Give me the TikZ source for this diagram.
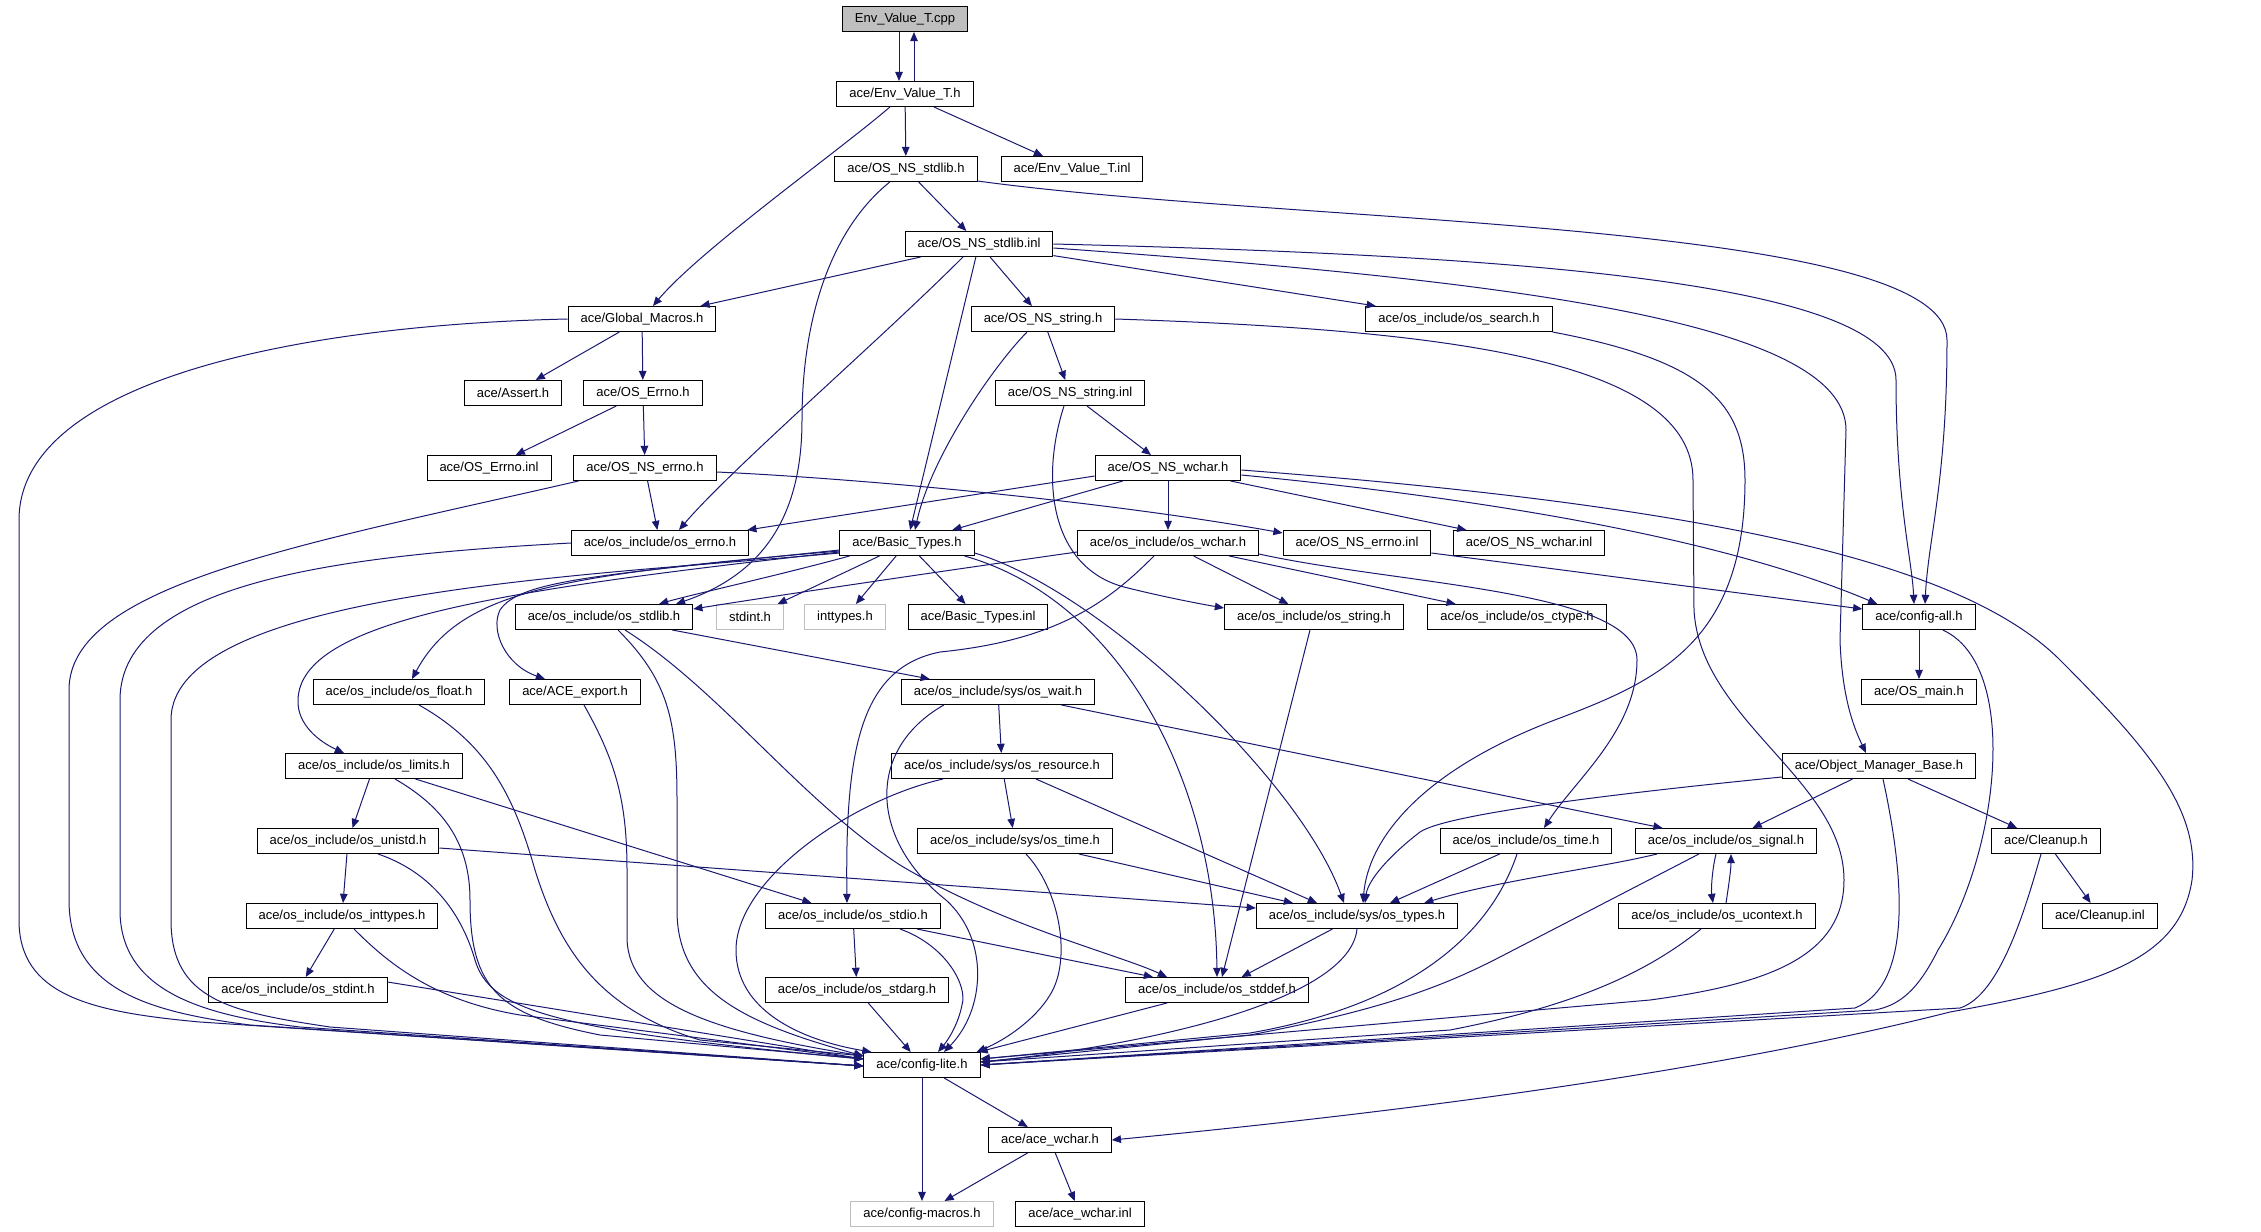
\documentclass[tikz,border=0pt]{standalone}
\usepackage{fontspec}
\setmainfont{Liberation Sans}
\usetikzlibrary{arrows.meta,calc}
\definecolor{edgec}{HTML}{191970}
\definecolor{graybd}{HTML}{BFBFBF}
\tikzset{
  box/.style={draw=black, line width=0.5pt, rectangle, fill=white, minimum height=12.5pt,
    inner xsep=6.25pt, inner ysep=0pt, font={\fontsize{6.5pt}{7.5pt}\selectfont}},
  gbox/.style={box, draw=graybd},
  rootbox/.style={box, fill=graybd},
  e/.style={draw=edgec, line width=0.5pt, -{Triangle[length=4.6pt,width=3.8pt]}},
}
\begin{document}
\begin{tikzpicture}[x=0.5pt,y=-0.5pt]
\useasboundingbox (0,0) rectangle (2261,1232);
% nodes
\node[rootbox] (cpp) at (905,19) {Env\_Value\_T.cpp};
\node[box] (evh) at (905,94) {ace/Env\_Value\_T.h};
\node[box] (nsstdlib) at (906,169) {ace/OS\_NS\_stdlib.h};
\node[box] (evinl) at (1072,169) {ace/Env\_Value\_T.inl};
\node[box] (nsstdlibinl) at (979,244) {ace/OS\_NS\_stdlib.inl};
\node[box] (gm) at (642,319) {ace/Global\_Macros.h};
\node[box] (nsstring) at (1043,319) {ace/OS\_NS\_string.h};
\node[box] (search) at (1459,319) {ace/os\_include/os\_search.h};
\node[box] (assert) at (513,393) {ace/Assert.h};
\node[box] (errno) at (643,393) {ace/OS\_Errno.h};
\node[box] (nsstringinl) at (1070,393) {ace/OS\_NS\_string.inl};
\node[box] (errnoinl) at (489,468) {ace/OS\_Errno.inl};
\node[box] (nserrno) at (645,468) {ace/OS\_NS\_errno.h};
\node[box] (nswchar) at (1168,468) {ace/OS\_NS\_wchar.h};
\node[box] (oserrno) at (660,543) {ace/os\_include/os\_errno.h};
\node[box] (bt) at (907,543) {ace/Basic\_Types.h};
\node[box] (oswchar) at (1168,543) {ace/os\_include/os\_wchar.h};
\node[box] (nserrnoinl) at (1357,543) {ace/OS\_NS\_errno.inl};
\node[box] (nswcharinl) at (1529,543) {ace/OS\_NS\_wchar.inl};
\node[box] (osstdlib) at (604,617) {ace/os\_include/os\_stdlib.h};
\node[gbox] (stdint) at (750,617) {stdint.h};
\node[gbox] (inttypes) at (845,617) {inttypes.h};
\node[box] (btinl) at (978,617) {ace/Basic\_Types.inl};
\node[box] (osstring) at (1314,617) {ace/os\_include/os\_string.h};
\node[box] (ctype) at (1517,617) {ace/os\_include/os\_ctype.h};
\node[box] (configall) at (1919,617) {ace/config-all.h};
\node[box] (float) at (399,692) {ace/os\_include/os\_float.h};
\node[box] (export) at (575,692) {ace/ACE\_export.h};
\node[box] (wait) at (998,692) {ace/os\_include/sys/os\_wait.h};
\node[box] (osmain) at (1919,692) {ace/OS\_main.h};
\node[box] (limits) at (374,766) {ace/os\_include/os\_limits.h};
\node[box] (resource) at (1002,766) {ace/os\_include/sys/os\_resource.h};
\node[box] (omb) at (1879,766) {ace/Object\_Manager\_Base.h};
\node[box] (unistd) at (348,841) {ace/os\_include/os\_unistd.h};
\node[box] (systime) at (1015,841) {ace/os\_include/sys/os\_time.h};
\node[box] (ostime) at (1526,841) {ace/os\_include/os\_time.h};
\node[box] (signal) at (1726,841) {ace/os\_include/os\_signal.h};
\node[box] (cleanup) at (2046,841) {ace/Cleanup.h};
\node[box] (inttypesh) at (342,916) {ace/os\_include/os\_inttypes.h};
\node[box] (stdio) at (853,916) {ace/os\_include/os\_stdio.h};
\node[box] (systypes) at (1357,916) {ace/os\_include/sys/os\_types.h};
\node[box] (ucontext) at (1717,916) {ace/os\_include/os\_ucontext.h};
\node[box] (cleanupinl) at (2100,916) {ace/Cleanup.inl};
\node[box] (stdintinc) at (298,990) {ace/os\_include/os\_stdint.h};
\node[box] (stdarg) at (857,990) {ace/os\_include/os\_stdarg.h};
\node[box] (stddef) at (1217,990) {ace/os\_include/os\_stddef.h};
\node[box] (cl) at (922,1065) {ace/config-lite.h};
\node[box] (acewchar) at (1050,1140) {ace/ace\_wchar.h};
\node[gbox] (macros) at (922,1214) {ace/config-macros.h};
\node[box] (wcharinl) at (1080,1214) {ace/ace\_wchar.inl};

% top
\draw[e] ($(cpp.south)+(-6,0)$) -- ($(evh.north)+(-6,0)$);
\draw[e] ($(evh.north)+(9,0)$) -- ($(cpp.south)+(9,0)$);
\draw[e] (evh) -- (nsstdlib);
\draw[e] (evh) -- (evinl);
\draw[e] (evh) .. controls (840,150) and (700,250) .. (gm);
% OS_NS_stdlib.h
\draw[e] (nsstdlib) -- (nsstdlibinl);
\draw[e] (nsstdlib) .. controls (830,230) and (802,320) .. (802,420) .. controls (802,520) and (760,575) .. ($(osstdlib.north)+(72,0)$);
\draw[e] ($(nsstdlib.south east)+(0,-1)$) .. controls (1300,225) and (1947,220) .. (1947,340) .. controls (1947,480) and (1928,540) .. ($(configall.north)+(6,0)$);
% OS_NS_stdlib.inl
\draw[e] (nsstdlibinl) -- (gm);
\draw[e] (nsstdlibinl) -- (bt);
\draw[e] ($(nsstdlibinl.south)+(-16,0)$) .. controls (880,340) and (730,470) .. ($(oserrno.north)+(19,0)$);
\draw[e] (nsstdlibinl) -- (nsstring);
\draw[e] (nsstdlibinl) -- (search);
\draw[e] (nsstdlibinl.east) .. controls (1500,255) and (1896,280) .. (1896,380) .. controls (1896,500) and (1912,560) .. ($(configall.north)+(-5,0)$);
\draw[e] ($(nsstdlibinl.east)+(0,4)$) .. controls (1500,280) and (1846,320) .. (1846,430) -- (1840,640) .. controls (1842,700) and (1855,730) .. ($(omb.north)+(-13,0)$);
% Global_Macros
\draw[e] (gm) -- (assert);
\draw[e] (gm) -- (errno);
\draw[e] (gm.west) .. controls (300,325) and (19,380) .. (19,520) -- (19,920) .. controls (19,995) and (90,1012) .. (200,1022) -- ($(cl.west)+(0,1)$);
% OS_Errno
\draw[e] (errno) -- (errnoinl);
\draw[e] (errno) -- (nserrno);
% OS_NS_errno
\draw[e] (nserrno) -- (oserrno);
\draw[e] ($(nserrno.east)+(0,4)$) .. controls (850,478) and (1100,500) .. ($(nserrnoinl.north west)+(0,3)$);
\draw[e] ($(nserrno.south west)+(5,0)$) .. controls (300,545) and (69,585) .. (69,690) -- (69,900) .. controls (69,990) and (150,1012) .. (250,1025) -- ($(cl.west)+(0,1)$);
% os_errno
\draw[e] (oserrno.west) .. controls (350,555) and (120,580) .. (120,700) -- (120,910) .. controls (120,990) and (200,1015) .. (300,1027) -- ($(cl.west)+(0,1)$);
% OS_NS_string.h
\draw[e] (nsstring) -- (nsstringinl);
\draw[e] ($(nsstring.south)+(-16,0)$) .. controls (990,370) and (930,460) .. ($(bt.north)+(8,0)$);
\draw[e] (nsstring.east) .. controls (1450,330) and (1693,360) .. (1693,480) -- (1694,610) .. controls (1700,720) and (1844,780) .. (1844,880) .. controls (1844,960) and (1760,985) .. (1650,1000) -- ($(cl.east)+(0,-6)$);
% OS_NS_string.inl
\draw[e] (nsstringinl) -- (nswchar);
\draw[e] ($(nsstringinl.south)+(-6,0)$) .. controls (1040,480) and (1050,570) .. (1128,588) .. controls (1160,596) and (1195,603) .. ($(osstring.north west)+(0,4)$);
% OS_NS_wchar.h
\draw[e] ($(nswchar.west)+(0,8)$) -- ($(oserrno.north east)+(-2,0)$);
\draw[e] (nswchar) -- (bt);
\draw[e] (nswchar) -- (oswchar);
\draw[e] (nswchar) -- (nswcharinl);
\draw[e] ($(nswchar.east)+(0,7)$) .. controls (1550,505) and (1750,550) .. ($(configall.north west)+(15,0)$);
\draw[e] ($(nswchar.east)+(0,2)$) .. controls (1700,505) and (1960,560) .. (2060,660) .. controls (2150,750) and (2200,810) .. (2192,880) .. controls (2180,960) and (2100,985) .. (1950,1012) .. controls (1800,1050) and (1550,1098) .. (acewchar.east);
% os_wchar.h
\draw[e] ($(oswchar.west)+(0,9)$) .. controls (950,570) and (780,595) .. ($(osstdlib.east)+(0,-8)$);
\draw[e] ($(oswchar.south)+(-14,0)$) .. controls (1110,600) and (1060,640) .. (940,652) .. controls (860,668) and (845,750) .. ($(stdio.north)+(-6,0)$);
\draw[e] (oswchar) -- (osstring);
\draw[e] (oswchar) -- (ctype);
\draw[e] ($(oswchar.south east)+(0,-2)$) .. controls (1400,585) and (1637,590) .. (1637,660) .. controls (1637,730) and (1575,780) .. ($(ostime.north)+(18,0)$);
% OS_NS_errno.inl
\draw[e] ($(nserrnoinl.east)+(0,10)$) -- ($(configall.west)+(0,-8)$);
% Basic_Types.h
\draw[e] (bt) -- (stdint);
\draw[e] (bt) -- (inttypes);
\draw[e] (bt) -- (btinl);
\draw[e] ($(bt.south west)+(10,0)$) .. controls (780,575) and (690,595) .. ($(osstdlib.north)+(55,0)$);
\draw[e] ($(bt.south west)+(0,-3)$) .. controls (600,575) and (171,590) .. (171,720) -- (171,920) .. controls (171,1000) and (230,1012) .. (330,1027) -- ($(cl.west)+(0,1)$);
\draw[e] ($(bt.south west)+(0,-4)$) .. controls (500,590) and (300,620) .. (298,700) .. controls (297,725) and (320,742) .. ($(limits.north)+(-30,0)$);
\draw[e] ($(bt.south west)+(0,-5)$) .. controls (560,575) and (460,590) .. ($(float.north)+(13,0)$);
\draw[e] ($(bt.south west)+(0,-6)$) .. controls (600,575) and (520,580) .. (500,610) .. controls (490,630) and (505,665) .. ($(export.north)+(-30,0)$);
\draw[e] ($(bt.east)+(0,10)$) .. controls (1100,590) and (1300,780) .. ($(systypes.north)+(-13,0)$);
\draw[e] ($(bt.south east)+(-10,0)$) .. controls (1120,600) and (1215,780) .. (stddef.north);
% os_stdlib.h
\draw[e] (osstdlib) -- (wait);
\draw[e] ($(osstdlib.south)+(14,0)$) .. controls (668,680) and (677,720) .. (677,800) -- (677,910) .. controls (677,990) and (740,1022) .. ($(cl.north west)+(0,4)$);
\draw[e] ($(osstdlib.south)+(21,0)$) .. controls (720,690) and (800,800) .. (900,865) .. controls (1000,925) and (1120,955) .. ($(stddef.north)+(-50,0)$);
% os_float, ACE_export
\draw[e] ($(float.south)+(20,0)$) .. controls (490,745) and (515,800) .. (535,870) .. controls (560,950) and (600,1010) .. (700,1040) -- ($(cl.north west)+(0,4)$);
\draw[e] ($(export.south)+(9,0)$) .. controls (615,760) and (627,800) .. (627,870) -- (627,940) .. controls (630,1000) and (700,1030) .. ($(cl.north west)+(0,4)$);
% os_limits
\draw[e] (limits) -- (unistd);
\draw[e] (limits) -- (stdio);
\draw[e] ($(limits.south)+(21,0)$) .. controls (440,805) and (470,840) .. (470,900) .. controls (470,990) and (500,1015) .. (600,1035) -- ($(cl.west)+(0,-6)$);
% os_unistd
\draw[e] (unistd) -- (inttypesh);
\draw[e] ($(unistd.east)+(0,7)$) -- ($(systypes.west)+(0,-8)$);
\draw[e] ($(unistd.south)+(30,0)$) .. controls (440,875) and (465,925) .. (475,960) .. controls (490,1010) and (550,1030) .. ($(cl.west)+(0,-6)$);
% os_inttypes, os_stdint
\draw[e] (inttypesh) -- (stdintinc);
\draw[e] ($(inttypesh.south)+(12,0)$) .. controls (385,960) and (430,1000) .. (520,1015) -- ($(cl.west)+(0,-6)$);
\draw[e] ($(stdintinc.east)+(0,-8)$) -- ($(cl.west)+(0,-6)$);
% sys/os_wait
\draw[e] (wait) -- (resource);
\draw[e] (wait) -- (signal);
\draw[e] ($(wait.south west)+(43,0)$) .. controls (865,750) and (870,840) .. (946,900) .. controls (990,940) and (985,1010) .. ($(cl.north)+(22,0)$);
% sys/os_resource
\draw[e] (resource) -- (systime);
\draw[e] ($(resource.south)+(34,0)$) -- ($(systypes.north)+(-40,0)$);
\draw[e] ($(resource.south west)+(52,0)$) .. controls (850,800) and (736,880) .. (736,950) .. controls (736,1010) and (800,1040) .. ($(cl.north west)+(8,0)$);
% sys/os_time
\draw[e] ($(systime.south)+(64,0)$) -- ($(systypes.north)+(-64,0)$);
\draw[e] ($(systime.south)+(11,0)$) .. controls (1060,890) and (1072,960) .. (1050,995) .. controls (1035,1020) and (1005,1040) .. ($(cl.north east)+(-4,0)$);
% os_stdio, os_stdarg, os_stddef, sys/os_types, os_string
\draw[e] (stdio) -- (stdarg);
\draw[e] (stdio) -- (stddef);
\draw[e] ($(stdio.south)+(47,0)$) .. controls (945,945) and (968,985) .. (962,1005) .. controls (958,1025) and (948,1040) .. ($(cl.north)+(16,0)$);
\draw[e] (stdarg) -- (cl);
\draw[e] (stddef) -- ($(cl.north east)+(-2,0)$);
\draw[e] (systypes) -- (stddef);
\draw[e] (systypes.south) .. controls (1350,1000) and (1150,1045) .. ($(cl.east)+(0,-3)$);
\draw[e] ($(osstring.south)+(-4,0)$) -- ($(stddef.north)+(5,0)$);
% os_time
\draw[e] ($(ostime.south west)+(60,0)$) -- ($(systypes.north)+(33,0)$);
\draw[e] ($(ostime.south)+(-9,0)$) .. controls (1490,935) and (1410,1005) .. (1250,1033) -- ($(cl.east)+(0,-6)$);
% os_signal, os_ucontext
\draw[e] ($(signal.south)+(-10,0)$) .. controls (1712,870) and (1711,890) .. ($(ucontext.north)+(-4,0)$);
\draw[e] ($(ucontext.north)+(9,0)$) .. controls (1728,890) and (1731,870) .. ($(signal.south)+(5,0)$);
\draw[e] ($(signal.south west)+(22,0)$) .. controls (1600,868) and (1500,880) .. ($(systypes.north east)+(-34,0)$);
\draw[e] ($(signal.south west)+(64,0)$) -- (1500,957) .. controls (1440,988) and (1380,1010) .. (1250,1035) -- ($(cl.east)+(0,-3)$);
\draw[e] ($(ucontext.south)+(-16,0)$) .. controls (1650,970) and (1580,1005) .. (1450,1030) -- ($(cl.east)+(0,-3)$);
% os_search
\draw[e] (search.south east) .. controls (1700,360) and (1745,400) .. (1745,480) .. controls (1745,640) and (1660,680) .. (1560,718) .. controls (1420,770) and (1368,840) .. ($(systypes.north)+(6,0)$);
% Object_Manager_Base
\draw[e] ($(omb.west)+(0,11)$) .. controls (1600,795) and (1445,815) .. (1420,832) .. controls (1390,855) and (1368,880) .. ($(systypes.north)+(8,0)$);
\draw[e] (omb) -- (signal);
\draw[e] (omb) -- (cleanup);
\draw[e] ($(omb.south)+(4,0)$) .. controls (1905,880) and (1912,985) .. (1855,1008) -- (cl.east);
% config-all
\draw[e] (configall) -- (osmain);
\draw[e] ($(configall.south east)+(-33,0)$) .. controls (2020,665) and (2000,850) .. (1938,950) .. controls (1918,990) and (1900,1005) .. (1875,1010) -- (cl.east);
% Cleanup
\draw[e] (cleanup) -- (cleanupinl);
\draw[e] ($(cleanup.south)+(-5,0)$) .. controls (2025,910) and (2000,995) .. (1960,1008) -- (cl.east);
% config-lite, ace_wchar
\draw[e] (cl) -- (acewchar);
\draw[e] (cl) -- (macros);
\draw[e] (acewchar) -- (macros);
\draw[e] (acewchar) -- (wcharinl);
\end{tikzpicture}
\end{document}
